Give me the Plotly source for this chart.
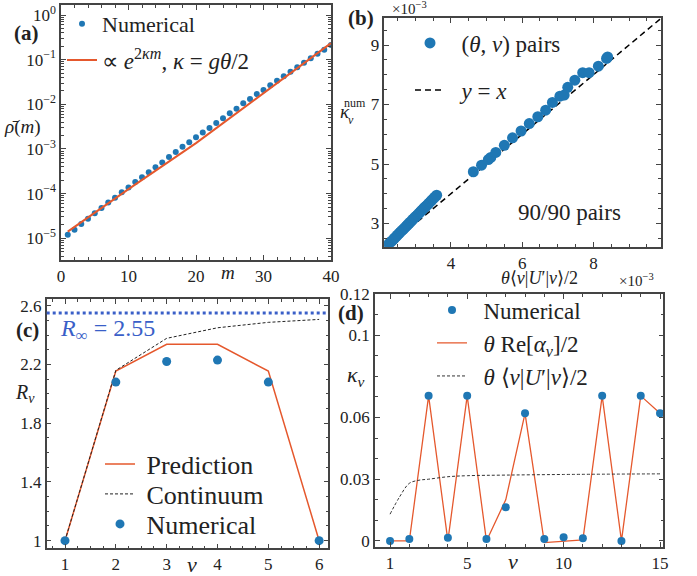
import plotly.graph_objects as go

W, H = 697, 576
BLUE = '#1f77b4'
ORANGE = '#e5582d'
FRAME = '#444444'
FONT = 'Liberation Serif'

# ---------------- data ----------------
# (a)
m_num = list(range(1, 41))
rho_num = [1.20e-5, 1.55e-5, 2.09e-5, 2.75e-5, 3.63e-5, 4.79e-5, 6.31e-5, 8.13e-5, 1.07e-4, 1.38e-4,
           1.82e-4, 2.34e-4, 3.02e-4, 3.89e-4, 5.01e-4, 6.61e-4, 8.51e-4, 1.12e-3, 1.41e-3, 1.82e-3,
           2.34e-3, 2.95e-3, 3.80e-3, 4.90e-3, 6.31e-3, 7.94e-3, 1.05e-2, 1.32e-2, 1.70e-2, 2.09e-2,
           2.69e-2, 3.39e-2, 4.27e-2, 5.37e-2, 6.76e-2, 8.51e-2, 0.107, 0.135, 0.166, 0.214]
m_fit = [1, 10, 20, 30, 40]
rho_fit = [1.41e-5, 1.26e-4, 1.35e-3, 1.82e-2, 0.234]

# (b)  values in units of 1e-3
kappa_th_e3 = [2.18, 2.22, 2.26, 2.30, 2.34, 2.38, 2.42, 2.46, 2.50, 2.54, 2.58, 2.62, 2.66, 2.70,
               2.74, 2.78, 2.82, 2.86, 2.90, 2.94, 2.98, 3.02, 3.06, 3.10, 3.14, 3.18, 3.22, 3.26,
               3.30, 3.34, 3.38, 3.42, 3.46, 3.50, 3.55, 3.60,
               4.63, 4.86, 5.05, 5.12, 5.26, 5.50, 5.73, 5.97, 6.20, 6.44, 6.66, 6.85, 7.06, 7.18,
               7.28, 7.48, 7.70, 7.88, 8.14, 8.37, 8.40]
kappa_num_e3 = [2.22, 2.27, 2.32, 2.37, 2.41, 2.46, 2.51, 2.56, 2.61, 2.66, 2.71, 2.76, 2.80, 2.85,
                2.90, 2.95, 3.00, 3.05, 3.10, 3.15, 3.20, 3.24, 3.29, 3.34, 3.39, 3.44, 3.49, 3.54,
                3.58, 3.63, 3.68, 3.73, 3.78, 3.83, 3.89, 3.95,
                4.74, 4.96, 5.15, 5.22, 5.39, 5.63, 5.88, 6.11, 6.36, 6.59, 6.81, 7.07, 7.28, 7.32,
                7.58, 7.82, 8.07, 8.07, 8.29, 8.55, 8.60]
identity_ends = [2.2, 9.9]

# (c)
nu_c = [1, 2, 3, 4, 5, 6]
R_pred = [1.0, 2.155, 2.337, 2.337, 2.155, 1.0]
R_cont = [1.0, 2.16, 2.378, 2.45, 2.487, 2.507]
R_num = [1.0, 2.08, 2.22, 2.23, 2.08, 1.0]
R_inf = 2.55

# (d)
nu_d = list(range(1, 16))
kap_num = [0.0, 0.001, 0.0705, 0.0015, 0.0705, 0.001, 0.0164, 0.062, 0.001, 0.0018, 0.0013,
           0.0705, 0.0, 0.0705, 0.062]
kap_re = [0.0, 0.0, 0.0705, 0.0, 0.0705, 0.0, 0.020, 0.062, -0.0008, -0.0003, 0.0005,
          0.0705, 0.0, 0.0705, 0.062]
nu_cont = [1, 1.5, 2, 2.5, 3, 4, 5, 7, 10, 15]
kap_cont = [0.013, 0.0215, 0.028, 0.0295, 0.030, 0.0312, 0.0317, 0.032, 0.0323, 0.0326]


def px_x(p):
    return p / W


def px_y(p):
    return 1 - p / H


fig = go.Figure()

# ---------------- traces ----------------
# (a)
fig.add_trace(go.Scatter(x=m_num, y=rho_num, mode='markers', name='Numerical',
                         marker=dict(color=BLUE, size=6), xaxis='x', yaxis='y',
                         legend='legend'))
fig.add_trace(go.Scatter(x=m_fit, y=rho_fit, mode='lines',
                         name='∝ <i>e</i><sup>2<i>κm</i></sup>, <i>κ</i> = <i>gθ</i>/2',
                         line=dict(color=ORANGE, width=2), xaxis='x', yaxis='y',
                         legend='legend2'))
# (b)
fig.add_trace(go.Scatter(x=identity_ends, y=identity_ends, mode='lines',
                         name='\u00a0\u00a0<i>y</i> = <i>x</i>',
                         line=dict(color='black', width=1.5, dash='6px,4px'),
                         xaxis='x2', yaxis='y2', legend='legend4'))
fig.add_trace(go.Scatter(x=kappa_th_e3, y=kappa_num_e3, mode='markers',
                         name='\u00a0\u00a0(<i>θ</i>, <i>ν</i>) pairs',
                         marker=dict(color=BLUE, size=11), xaxis='x2', yaxis='y2',
                         legend='legend3'))
# (c)
fig.add_trace(go.Scatter(x=nu_c, y=R_pred, mode='lines', name='\u00a0Prediction',
                         line=dict(color=ORANGE, width=1.5), xaxis='x3', yaxis='y3',
                         legend='legend5'))
fig.add_trace(go.Scatter(x=nu_c, y=R_cont, mode='lines', name='\u00a0Continuum',
                         line=dict(color='#222222', width=1, dash='3px,2px'),
                         xaxis='x3', yaxis='y3', legend='legend6'))
fig.add_trace(go.Scatter(x=nu_c, y=R_num, mode='markers', name='\u00a0Numerical',
                         marker=dict(color=BLUE, size=9), xaxis='x3', yaxis='y3',
                         legend='legend7'))
# (d)
fig.add_trace(go.Scatter(x=nu_d, y=kap_re, mode='lines',
                         name='\u00a0\u00a0<i>θ</i> Re[<i>α</i><sub><i>ν</i></sub>]/2',
                         line=dict(color=ORANGE, width=1.3), xaxis='x4', yaxis='y4',
                         legend='legend9'))
fig.add_trace(go.Scatter(x=nu_cont, y=kap_cont, mode='lines', line_shape='spline',
                         name='\u00a0\u00a0<i>θ</i> ⟨<i>ν</i>|<i>U</i>′|<i>ν</i>⟩/2',
                         line=dict(color='#333333', width=1, dash='3px,2px'),
                         xaxis='x4', yaxis='y4', legend='legend10'))
fig.add_trace(go.Scatter(x=nu_d, y=kap_num, mode='markers', name='\u00a0\u00a0Numerical',
                         marker=dict(color=BLUE, size=8), xaxis='x4', yaxis='y4',
                         legend='legend8'))

# ---------------- axes ----------------
def axis_common(**kw):
    d = dict(showline=True, linecolor=FRAME, linewidth=1.5, mirror='allticks',
             ticks='inside', ticklen=5, tickwidth=1, tickcolor=FRAME,
             showgrid=False, zeroline=False, automargin=False,
             tickfont=dict(family=FONT, size=17, color='#222222'))
    d.update(kw)
    return d

a_dom_x = [px_x(61), px_x(331)]
a_dom_y = [px_y(260), px_y(5)]
b_dom_x = [px_x(384.3), px_x(660.7)]
b_dom_y = [px_y(246.7), px_y(18.3)]
c_dom_x = [px_x(46.7), px_x(328.3)]
c_dom_y = [px_y(548.3), px_y(299.3)]
d_dom_x = [px_x(375), px_x(663.3)]
d_dom_y = [px_y(546.7), px_y(294)]

fig.update_layout(
    xaxis=axis_common(domain=a_dom_x, anchor='y', range=[0, 40], tickvals=[0, 10, 20, 30, 40],
                      minor=dict(ticks='inside', ticklen=3, dtick=2, tickcolor=FRAME)),
    yaxis=axis_common(domain=a_dom_y, anchor='x', type='log', range=[-5.486, 0.224],
                      tickvals=[1e-5, 1e-4, 1e-3, 1e-2, 1e-1, 1],
                      ticktext=['10<sup>−5</sup>', '10<sup>−4</sup>', '10<sup>−3</sup>',
                                '10<sup>−2</sup>', '10<sup>−1</sup>', '10<sup>0</sup>'],
                      minor=dict(ticks='inside', ticklen=3, tickcolor=FRAME,
                                 tickvals=[k * 10 ** e for e in range(-6, 1) for k in range(2, 10)])),
    xaxis2=axis_common(domain=b_dom_x, anchor='y2', range=[2.13, 9.89], tickvals=[4, 6, 8],
                       minor=dict(ticks='inside', ticklen=3, dtick=0.5, tickcolor=FRAME)),
    yaxis2=axis_common(domain=b_dom_y, anchor='x2', range=[2.22, 9.90], tickvals=[3, 5, 7, 9],
                       minor=dict(ticks='inside', ticklen=3, dtick=0.5, tickcolor=FRAME)),
    xaxis3=axis_common(domain=c_dom_x, anchor='y3', range=[0.64, 6.18], tickvals=[1, 2, 3, 4, 5, 6],
                       minor=dict(ticks='inside', ticklen=3, dtick=0.25, tickcolor=FRAME)),
    yaxis3=axis_common(domain=c_dom_y, anchor='x3', range=[0.948, 2.644],
                       tickvals=[1, 1.4, 1.8, 2.2, 2.6], ticktext=['1', '1.4', '1.8', '2.2', '2.6'],
                       minor=dict(ticks='inside', ticklen=3, dtick=0.1, tickcolor=FRAME)),
    xaxis4=axis_common(domain=d_dom_x, anchor='y4', range=[0.22, 15.17], tickvals=[1, 5, 10, 15],
                       minor=dict(ticks='inside', ticklen=3, dtick=1, tickcolor=FRAME)),
    yaxis4=axis_common(domain=d_dom_y, anchor='x4', range=[-0.0028, 0.12],
                       tickvals=[0, 0.03, 0.06, 0.1, 0.12], ticktext=['0', '0.03', '0.06', '0.1', '0.12'],
                       minor=dict(ticks='inside', ticklen=3, dtick=0.01, tickcolor=FRAME)),
)

# R_inf dotted line
fig.add_shape(type='line', xref='x3 domain', yref='y3', x0=0, x1=1, y0=R_inf, y1=R_inf,
              line=dict(color='#3a5fc8', width=3, dash='dot'))

# ---------------- legends (one per entry for exact placement) ----------------
def leg(cx, cy, size):
    return dict(x=px_x(cx - 20), y=px_y(cy), xanchor='left', yanchor='middle',
                bgcolor='rgba(0,0,0,0)', borderwidth=0, itemwidth=30,
                font=dict(family=FONT, size=size, color='#222222'))

fig.update_layout(
    legend=leg(82, 24, 22),
    legend2=leg(82, 60, 23),
    legend3=leg(430, 43, 23),
    legend4=leg(430, 90, 23),
    legend5=leg(120, 464, 26),
    legend6=leg(120, 494, 26),
    legend7=leg(120, 524, 26),
    legend8=leg(452, 310, 23),
    legend9=leg(452, 343, 23),
    legend10=leg(452, 376, 23),
)

# ---------------- text annotations ----------------
def txt(text, cx, cy, size, color='#222222', xanchor='center'):
    fig.add_annotation(text=text, x=px_x(cx), y=px_y(cy), xref='paper', yref='paper',
                       xanchor=xanchor, yanchor='middle', showarrow=False,
                       font=dict(family=FONT, size=size, color=color))

txt('<b>(a)</b>', 26, 33, 21)
txt('<i>ρ̄</i>(<i>m</i>)', 22, 127, 19)
txt('<i>m</i>', 228, 272, 19)
txt('<b>(b)</b>', 361, 18, 21)
txt('×10<sup>−3</sup>', 409, 8, 15)
txt('<i>κ</i>', 345, 111, 19)
txt('num', 355, 103, 12)
txt('<i>ν</i>', 351, 120, 12)
txt('<i>θ</i>⟨<i>ν</i>|<i>U</i>′|<i>ν</i>⟩/2', 539, 278, 18)
txt('×10<sup>−3</sup>', 636, 280, 15)
txt('90/90 pairs', 569, 212, 23)
txt('<b>(c)</b>', 28, 330, 21)
txt('<i>R</i><sub>∞</sub> = 2.55', 58, 330, 24, color='#3a5fc8', xanchor='left')
txt('<i>R</i><sub><i>ν</i></sub>', 25, 393, 20)
txt('<i>ν</i>', 192, 564, 22)
txt('<b>(d)</b>', 351, 313, 21)
txt('<i>κ</i><sub><i>ν</i></sub>', 356, 376, 22)
txt('<i>ν</i>', 513, 561, 22)

fig.update_layout(width=W, height=H, margin=dict(l=0, r=0, t=0, b=0, autoexpand=False),
                  paper_bgcolor='white', plot_bgcolor='white', showlegend=True)

fig.write_html('out.html', post_script="document.body.style.margin='0px';",
               config={'displayModeBar': False})
